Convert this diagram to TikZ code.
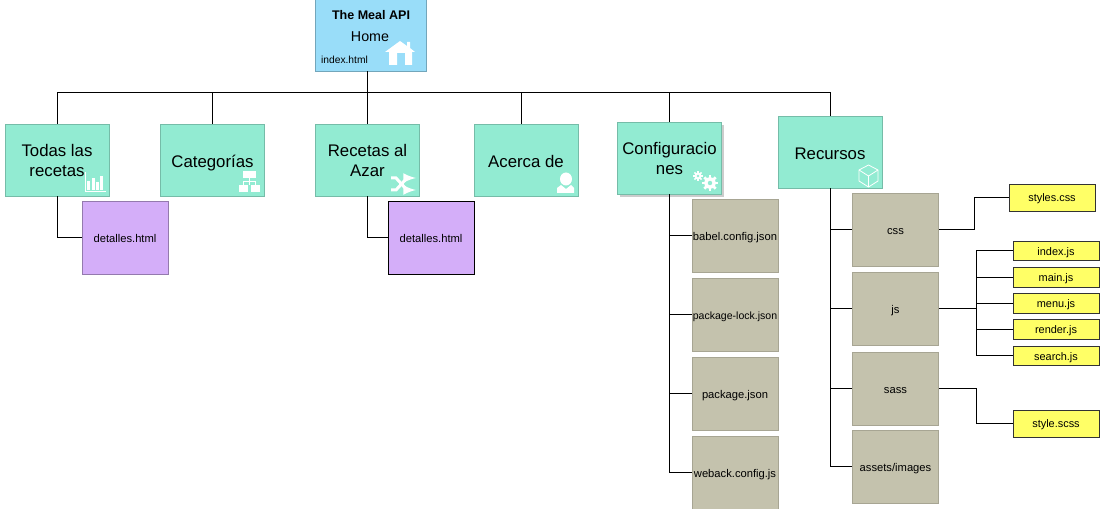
\documentclass[tikz,border=0pt]{standalone}
\usepackage{fontspec}
\setmainfont{Liberation Sans}
\usetikzlibrary{shadows}

\definecolor{rootblue}{HTML}{99DDF9}
\definecolor{pageteal}{HTML}{92EBD2}
\definecolor{htmlpurple}{HTML}{D4AEF9}
\definecolor{foldergray}{HTML}{C4C2AD}
\definecolor{fileyellow}{HTML}{FFFF66}

\tikzstyle{rootbox}=[draw=rootblue!75!black, fill=rootblue, minimum width=83pt, minimum height=57pt, inner sep=0pt]
\tikzstyle{page}=[draw=pageteal!80!black, fill=pageteal, minimum width=78pt, minimum height=54pt, inner sep=0pt, align=center, font=\fontsize{12.6}{15}\selectfont]
\tikzstyle{twolines}=[page, text depth=-2.5pt]
\tikzstyle{oneline}=[page, text height=12pt, text depth=0pt]
\tikzstyle{detail}=[draw=htmlpurple!70!black, fill=htmlpurple, minimum width=64.5pt, minimum height=54.5pt, inner sep=0pt, font=\fontsize{8.4}{10}\selectfont]
\tikzstyle{folder}=[draw=foldergray!85!black, fill=foldergray, minimum width=64.5pt, minimum height=54.5pt, inner sep=0pt, text height=6.8pt, text depth=0pt, font=\fontsize{8.4}{10}\selectfont]
\tikzstyle{script}=[draw=black!80, fill=fileyellow, minimum width=64.5pt, minimum height=14.6pt, inner sep=0pt, text height=6.6pt, text depth=0pt, font=\fontsize{8.2}{10}\selectfont]
\tikzstyle{sheet}=[script, minimum height=20.5pt]
\tikzstyle{link}=[line width=0.75pt, black]
\tikzstyle{icon}=[fill=white, draw=none]
\tikzstyle{iconline}=[draw=white, fill=none]

\newcommand{\gearicon}[3]{%
  \foreach \a in {0,45,...,315} {
    \draw[iconline, line width=#3*0.24pt] (#1,#2) -- ++(\a:#3);
  }
  \fill[icon] (#1,#2) circle[radius=#3*0.72];
  \fill[pageteal] (#1,#2) circle[radius=#3*0.28];
}

\begin{document}
\begin{tikzpicture}[x=0.75pt, y=-0.75pt]
      \useasboundingbox (0,0) rectangle (1107,509);
      \clip (0,0) rectangle (1107,509);

      % home
      \node[rootbox] (root) at (370.5,33) {};
      \node[font=\fontsize{9.4}{11}\selectfont\bfseries, inner sep=0pt] (roottitle) at (371,15) {The Meal API};
      \node[font=\fontsize{10.7}{13}\selectfont, inner sep=0pt] (roothome) at (370,36.7) {Home};
      \node[font=\fontsize{7.7}{9}\selectfont, inner sep=0pt] (rootfile) at (344.5,59.5) {index.html};

      % main pages
      \node[twolines] (todas) at (57,160) {Todas las\\recetas};
      \node[oneline] (categorias) at (212.5,160) {Categorías};
      \node[twolines] (azar) at (367.5,160) {Recetas al\\Azar};
      \node[oneline] (acerca) at (526,160) {Acerca de};
      \node[page, drop shadow={shadow xshift=2pt, shadow yshift=-2pt, fill=black!20, opacity=1}] (config) at (669.5,158) {Configuracio\\nes};
      \node[oneline] (recursos) at (830,152) {Recursos};

      \node[detail] (detalles) at (125,238) {detalles.html};
      \node[detail, draw=black] (detallesazar) at (431,238) {detalles.html};

      % config files
      \node[folder] (babel) at (735,235.5) {babel.config.json};
      \node[folder, font=\fontsize{7.9}{10}\selectfont] (lock) at (735,315) {package-lock.json};
      \node[folder] (package) at (735,394) {package.json};
      \node[folder] (webpack) at (735,472.5) {weback.config.js};

      % resources
      \node[folder] (css) at (895.5,229.5) {css};
      \node[folder] (js) at (895.5,309) {js};
      \node[folder] (sass) at (895.5,388.5) {sass};
      \node[folder] (assets) at (895.5,467) {assets/images};

      \node[sheet] (styles) at (1052,197.5) {styles.css};
      \node[script] (indexjs) at (1056,251) {index.js};
      \node[script] (mainjs) at (1056,277.5) {main.js};
      \node[script] (menujs) at (1056,303.5) {menu.js};
      \node[script] (renderjs) at (1056,329.5) {render.js};
      \node[script] (searchjs) at (1056,356) {search.js};
      \node[sheet] (stylescss) at (1056,423.5) {style.scss};

      \coordinate (bus) at (367.5,93);
      \coordinate (acercatop) at (521,124);
      \coordinate (cssbend) at (974,197.5);
      \coordinate (jshub) at (976,309);
      \coordinate (sassbend) at (976,423.5);

      \draw[link] (bus |- root.south) to (bus);
      \draw[link] (bus) -| (todas.north);
      \draw[link] (bus) -| (categorias.north);
      \draw[link] (bus) to (azar.north);
      \draw[link] (bus) -| (acercatop);
      \draw[link] (bus) -| (config.north);
      \draw[link] (bus) -| (recursos.north);

      \draw[link] (todas.south) |- (detalles.west);
      \draw[link] (azar.south) |- (detallesazar.west);

      \draw[link] (config.south) |- (babel.west);
      \draw[link] (config.south) |- (lock.west);
      \draw[link] (config.south) |- (package.west);
      \draw[link] (config.south) |- (webpack.west);

      \draw[link] (recursos.south) |- (css.west);
      \draw[link] (recursos.south) |- (js.west);
      \draw[link] (recursos.south) |- (sass.west);
      \draw[link] (recursos.south) |- (assets.west);

      \draw[link] (css.east) -| (cssbend) to (styles.west);
      \draw[link] (js.east) to (jshub);
      \draw[link] (jshub) |- (indexjs.west);
      \draw[link] (jshub) |- (mainjs.west);
      \draw[link] (jshub) |- (menujs.west);
      \draw[link] (jshub) |- (renderjs.west);
      \draw[link] (jshub) |- (searchjs.west);
      \draw[link] (sass.east) -| (sassbend) to (stylescss.west);

      % icons
      \fill[icon] (400,41) -- (407,46) -- (407,42) -- (410,42) -- (410,48) -- (415,52) -- (412,52) -- (412,65) -- (405,65) -- (405,53) -- (397,53) -- (397,65) -- (389,65) -- (389,52) -- (385,52) -- cycle;

      \draw[iconline, line width=0.75pt] (85,172) -- (85,192) -- (106,192);
      \fill[icon] (87,181) rectangle (90,190);
      \fill[icon] (92,178) rectangle (95,190);
      \fill[icon] (96,182) rectangle (99,190);
      \fill[icon] (100,176) rectangle (103,190);

      \fill[icon] (243,171) rectangle (256,178);
      \fill[icon] (239,185) rectangle (248,192);
      \fill[icon] (251,185) rectangle (260,192);
      \draw[iconline, line width=0.75pt] (249.5,178) -- (249.5,185);
      \draw[iconline, line width=0.75pt] (243.5,185) -- (243.5,181.5) -- (255.5,181.5) -- (255.5,185);

      \draw[iconline, line width=2.25pt, -latex] (391,178) -- (396,178) -- (407,190) -- (416,190);
      \draw[iconline, line width=2.25pt, -latex] (391,190) -- (396,190) -- (407,178) -- (416,178);

      \fill[icon] (566,179) circle[x radius=6, y radius=6.5];
      \fill[icon] (557,193) -- (557,188) -- (561,185) -- (566,189) -- (571,185) -- (574,188) -- (574,193) -- cycle;

      \gearicon{710}{183}{8}
      \gearicon{698}{176}{5}

      \draw[iconline, line width=0.6pt] (868.5,165) -- (878,170) -- (878,181) -- (868.5,187) -- (859,181) -- (859,170) -- cycle;
      \draw[iconline, line width=0.6pt] (859,170) -- (868.5,176) -- (878,170);
      \draw[iconline, line width=0.6pt] (868.5,176) -- (868.5,187);
    \end{tikzpicture}
\end{document}
